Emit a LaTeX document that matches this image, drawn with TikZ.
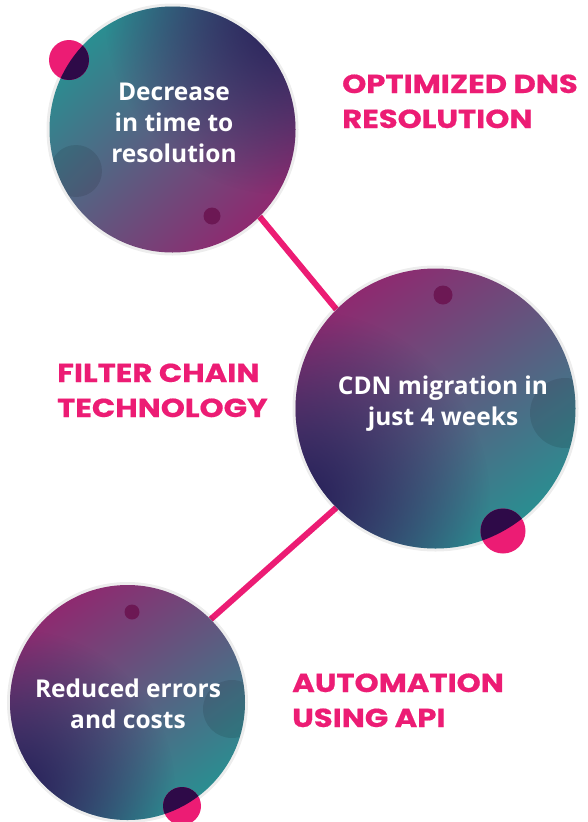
\documentclass[tikz,border=0pt]{standalone}
\usepackage{fontspec}
\setmainfont{Open Sans}
\newfontfamily\headfont{Poppins}[FakeStretch=1.18, FakeBold=0.6]
\usetikzlibrary{fadings,backgrounds}

\definecolor{hotpink}{RGB}{236,28,116}
\definecolor{seateal}{RGB}{42,142,145}
\definecolor{plum}{RGB}{142,42,112}
\definecolor{deepindigo}{RGB}{38,30,88}
\definecolor{inkspot}{RGB}{46,10,72}
\definecolor{winedot}{RGB}{108,24,84}

\tikzfading[name=softspot, inner color=transparent!0, outer color=transparent!100]

\tikzset{
  bubble/.style={circle, inner sep=0pt, preaction={draw=black, draw opacity=0.07, line width=6pt}},
  bubbletext/.style={text=white, font=\bfseries\fontsize{24.5}{31}\selectfont, align=center},
  headline/.style={text=hotpink, font=\headfont\bfseries\fontsize{26}{35}\selectfont, align=left, anchor=base west, inner sep=0pt},
  link/.style={draw=hotpink, line width=6pt},
}

\begin{document}
\begin{tikzpicture}[x=1pt,y=1pt,yscale=-1,xscale=1]
\useasboundingbox (0,0) rectangle (588,822);

%Shape: Circle (top)
\node [bubble, minimum size=246pt, top color=seateal, bottom color=plum, shading angle=45] (dns) at (172.5,129.5) {};
\begin{scope}
  \clip (dns) circle [radius=123];
  \fill [deepindigo, path fading=softspot] (285,15) circle [radius=180];
  \fill [black, opacity=0.1] (76,171) circle [radius=26];
  \fill [winedot] (212,216) circle [radius=8.5];
\end{scope}
\fill [hotpink] (69,60) circle [radius=20];
\begin{scope}
  \clip (dns) circle [radius=123];
  \fill [inkspot] (69,60) circle [radius=20];
\end{scope}

%Shape: Circle (middle)
\node [bubble, minimum size=280pt, top color=plum, bottom color=seateal, shading angle=35] (cdn) at (435.5,408.5) {};
\begin{scope}
  \clip (cdn) circle [radius=140];
  \fill [deepindigo, path fading=softspot] (300,500) circle [radius=190];
  \fill [black, opacity=0.1] (565,413) circle [radius=35];
  \fill [winedot] (443,295) circle [radius=9.5];
\end{scope}
\fill [hotpink] (503,531) circle [radius=22.5];
\begin{scope}
  \clip (cdn) circle [radius=140];
  \fill [inkspot] (503,531) circle [radius=22.5];
\end{scope}

%Shape: Circle (bottom)
\node [bubble, minimum size=235pt, top color=plum, bottom color=seateal, shading angle=35] (cost) at (127.5,702.5) {};
\begin{scope}
  \clip (cost) circle [radius=117.5];
  \fill [deepindigo, path fading=softspot] (15,790) circle [radius=160];
  \fill [black, opacity=0.1] (232,709) circle [radius=29];
  \fill [winedot] (132,612) circle [radius=7.5];
\end{scope}
\fill [hotpink] (182,806) circle [radius=19];
\begin{scope}
  \clip (cost) circle [radius=117.5];
  \fill [inkspot] (182,806) circle [radius=19];
\end{scope}

%Straight Lines
\begin{scope}[on background layer]
  \draw [link] (dns.-45) -- (cdn.135);
  \draw [link] (cdn.225) -- (cost.45);
\end{scope}

% Text Node
\node [bubbletext] (dnstext) at (174,123) {Decrease\\in time to\\resolution};
\node [bubbletext] (cdntext) at (443,404) {CDN migration in\\just 4 weeks};
\node [bubbletext] (costtext) at (128,704) {Reduced errors\\and costs};

% Text Node
\node [headline] (dnslabel) at (342,128) {OPTIMIZED DNS\\RESOLUTION};
\node [headline] (filterlabel) at (57,417) {FILTER CHAIN\\TECHNOLOGY};
\node [headline] (apilabel) at (292,727) {AUTOMATION\\USING API};

\end{tikzpicture}
\end{document}
